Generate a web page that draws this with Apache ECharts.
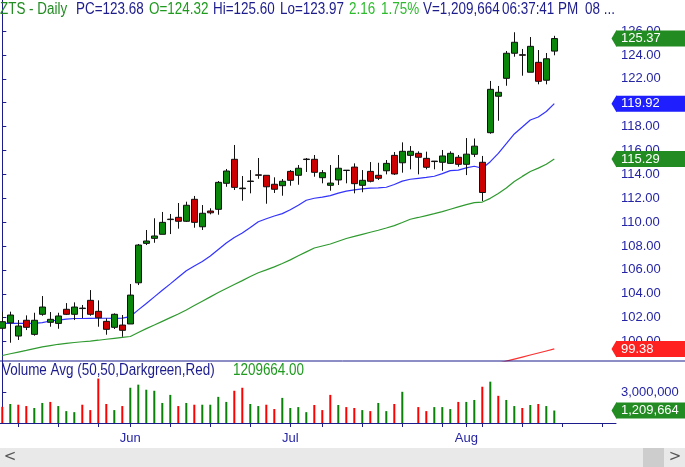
<!DOCTYPE html>
<html>
<head>
<meta charset="utf-8">
<script src="https://cdn.jsdelivr.net/npm/echarts@6/dist/echarts.min.js"></script>
<style>
html,body{margin:0;padding:0;background:#fff;}
#main{width:685px;height:467px;}
</style>
</head>
<body>
<div id="main"></div>
<script>
// daily bars, 9 May - 16 Aug (index 0..69)
var opens = [101.11,101.57,100.46,101.78,100.60,102.28,101.61,101.52,102.70,102.28,
  102.76,103.45,102.53,101.69,101.19,101.38,101.47,104.92,108.22,108.64,
  108.98,110.25,110.40,110.07,111.91,109.61,110.93,111.07,113.25,115.26,
  112.80,113.40,113.96,113.92,113.17,113.05,114.25,113.92,115.24,115.26,
  113.72,113.08,113.53,114.32,114.61,113.08,114.25,113.92,114.30,115.59,
  114.97,115.59,115.76,115.34,115.11,115.01,114.92,115.43,114.84,115.68,
  115.01,117.49,120.54,122.04,124.14,124.02,122.55,123.38,121.88,124.32];
var highs = [102.50,102.50,101.80,102.19,102.41,103.81,102.47,102.41,103.22,103.28,
  103.06,104.31,103.45,101.94,102.36,102.22,104.82,108.17,109.34,110.32,
  110.85,110.68,111.60,111.71,112.19,111.43,111.16,113.44,114.45,116.46,
  113.86,114.36,115.37,113.92,113.75,113.61,114.36,114.78,115.37,115.62,
  114.36,114.78,115.62,114.36,114.92,114.36,115.03,114.97,115.20,115.87,
  116.68,116.37,115.93,115.90,115.12,116.04,115.93,115.62,117.04,117.00,
  115.54,121.82,121.40,124.33,125.90,124.50,125.50,124.41,124.16,125.60];
var lows = [101.00,99.90,100.13,100.96,100.49,102.16,101.24,101.07,102.22,101.80,
  101.97,102.16,101.24,100.57,101.05,100.40,101.47,104.73,108.08,108.27,
  108.98,109.00,109.45,110.01,109.53,109.34,110.65,110.62,112.96,112.69,
  111.79,112.41,113.63,111.54,112.44,112.21,113.05,113.13,114.20,113.80,
  113.25,112.63,113.11,113.25,112.41,112.50,113.33,113.53,114.00,113.95,
  114.14,114.42,114.00,114.42,114.42,114.30,114.87,114.64,113.94,115.45,
  111.77,117.40,118.49,121.42,123.85,122.26,122.55,121.54,121.54,123.97];
var closes = [101.66,102.22,101.30,101.19,101.78,102.89,101.86,102.14,102.28,102.89,
  102.80,102.28,101.99,101.02,102.28,100.94,103.89,108.08,108.42,108.84,
  109.98,110.21,110.07,111.41,109.98,110.74,110.78,113.33,114.28,112.91,
  112.85,113.44,113.92,112.96,112.75,113.42,113.50,114.51,115.28,114.17,
  114.14,113.27,114.51,114.35,113.22,113.50,113.42,113.67,114.92,114.03,
  115.93,115.93,115.43,114.59,115.07,115.54,115.76,114.84,115.69,116.36,
  112.48,121.12,120.87,124.14,125.06,123.97,124.72,121.79,123.68,125.37];

// moving averages
var ma20 = [101.52,101.52,101.52,101.52,101.52,101.59,101.72,101.80,101.88,101.93,
  101.93,101.94,101.95,101.95,101.94,101.96,102.09,102.65,103.19,103.74,
  104.29,104.83,105.38,105.92,106.32,106.70,107.16,107.71,108.25,108.72,
  109.09,109.55,110.03,110.28,110.51,110.71,111.03,111.42,111.83,112.00,
  112.10,112.22,112.43,112.60,112.70,112.78,112.84,112.86,112.92,113.15,
  113.43,113.59,113.67,113.75,113.84,114.06,114.31,114.36,114.54,114.68,
  114.51,115.06,115.75,116.58,117.38,117.96,118.55,118.80,119.26,119.92];
var ma50 = [98.83,98.98,99.12,99.26,99.41,99.55,99.66,99.77,99.85,99.92,
  99.98,100.04,100.11,100.19,100.27,100.35,100.42,100.75,101.08,101.38,
  101.69,102.00,102.30,102.64,103.01,103.38,103.74,104.10,104.44,104.77,
  105.10,105.44,105.76,106.00,106.25,106.54,106.84,107.18,107.51,107.83,
  108.00,108.17,108.40,108.63,108.80,108.98,109.15,109.32,109.51,109.71,
  109.97,110.24,110.39,110.55,110.71,110.88,111.08,111.27,111.46,111.63,
  111.68,111.99,112.40,112.86,113.40,113.83,114.24,114.52,114.85,115.29];
var maRedStart = 62;
var maRed = [98.19,98.36,98.53,98.70,98.87,99.04,99.21,99.38];

var volumes = [1570000,1840000,1770000,1640000,1450000,1940000,2040000,1640000,1150000,1050000,
  1770000,1250000,4300000,1840000,1250000,1640000,3410000,3710000,3220000,3120000,
  1940000,2720000,1640000,1940000,1770000,1770000,1770000,2530000,2040000,3120000,
  3410000,1840000,1640000,1770000,1350000,2430000,1450000,1540000,1050000,1740000,
  1250000,2720000,1740000,1540000,1450000,1250000,1150000,1940000,1150000,1840000,
  3020000,null,1540000,1150000,1540000,1540000,1350000,2040000,2040000,2230000,
  3510000,4000000,2630000,2230000,1640000,1450000,1740000,1840000,1640000,1209664];
var volUp = [0,1,0,0,1,1,0,1,1,1, 0,0,0,0,1,0,1,1,1,1, 1,1,0,1,0,1,1,1,1,0,
  0,1,1,0,0,1,1,1,1,0, 0,0,1,0,0,1,0,1,1,0, 1,1,0,0,1,1,1,0,1,1,
  0,1,0,1,1,0,1,0,1,1];

var weekTicks = [2,7,12,21,26,31,40,45,50,55,60,65,70,75];
var monthTicks = [16,36,58];
var monthLabels = ['Jun','Jul','Aug'];
var priceTicks = [100,102,104,106,108,110,112,114,116,118,120,122,124,126];
var volTicks = [3000000];

var navy = '#1c1c8c';
var axisText = '#2424a4';
var sans = 'Liberation Sans, Arial, sans-serif';

var candles = opens.map(function(o, i){ return [i, o, closes[i], lows[i], highs[i]]; });
var ma20Data = ma20.map(function(v, i){ return [i, v]; });
var ma50Data = ma50.map(function(v, i){ return [i, v]; });
var maRedData = maRed.map(function(v, i){ return [maRedStart + i, v]; });
var volData = [];
volumes.forEach(function(v, i){
  if (v == null) return;
  volData.push({value: [i, v], itemStyle: {color: volUp[i] ? '#0a820a' : '#ff0000'}});
});

var xMin = -0.2875, xMax = 76.7125;

// coloured value box on the right axis
function tag(v, text, bg) {
  return {
    silent: true, symbol: ['none','none'], animation: false,
    lineStyle: {color: 'rgba(0,0,0,0)', width: 0, opacity: 1},
    data: [{yAxis: v}],
    label: {show: true, position: 'end', distance: 0, formatter: text, color: '#fff', opacity: 1,
      backgroundColor: bg, padding: [2,4,1,5], width: 64,
      fontSize: 13, fontFamily: sans}
  };
}
function arrow(v, bg) {
  return {
    silent: true, animation: false,
    symbol: 'triangle', symbolSize: [17, 5], symbolRotate: 90, symbolOffset: [-2, 0],
    itemStyle: {color: bg}, label: {show: false},
    data: [{coord: [xMax, v]}]
  };
}
function hdr(x, y, text, color) {
  return {type: 'text', x: x, y: y, scaleX: 0.84, z: 20,
    style: {text: text, fill: color, font: '16px ' + sans, verticalAlign: 'middle', textVerticalAlign: 'middle'}};
}

var chart = echarts.init(document.getElementById('main'));
var option = {
  animation: false,
  grid: [
    {left: 0, right: 69, top: 0, height: 361},
    {left: 0, right: 69, top: 361, height: 62}
  ],
  xAxis: [
    {type: 'value', gridIndex: 0, min: xMin, max: xMax,
      axisLine: {show: false}, axisTick: {show: false}, axisLabel: {show: false}, splitLine: {show: false}},
    {type: 'value', gridIndex: 1, min: xMin, max: xMax,
      axisLine: {show: true, onZero: false, lineStyle: {color: navy, width: 1}},
      axisTick: {show: true, length: 4, customValues: weekTicks.concat(monthTicks), lineStyle: {color: navy}},
      axisLabel: {customValues: monthTicks, color: axisText, fontSize: 13, margin: 9, fontFamily: sans,
        formatter: function(v){ var k = monthTicks.indexOf(Math.round(v)); return k >= 0 ? monthLabels[k] : ''; }},
      splitLine: {show: false}}
  ],
  yAxis: [
    {type: 'value', gridIndex: 0, position: 'right', min: 98.37, max: 128.60,
      axisLine: {show: true, lineStyle: {color: navy, width: 1}},
      axisTick: {show: true, length: 4, customValues: priceTicks, lineStyle: {color: navy}},
      axisLabel: {customValues: priceTicks, color: axisText, fontSize: 13, margin: 5, fontFamily: sans,
        formatter: function(v){ return v.toFixed(2); }},
      splitLine: {show: false}},
    {type: 'value', gridIndex: 1, position: 'right', min: 0, max: 6000000,
      axisLine: {show: true, lineStyle: {color: navy, width: 1}},
      axisTick: {show: true, length: 4, customValues: volTicks, lineStyle: {color: navy}},
      axisLabel: {customValues: volTicks, color: axisText, fontSize: 13, margin: 5, fontFamily: sans,
        formatter: function(v){ return Math.round(v).toLocaleString('en-US'); }},
      splitLine: {show: false}}
  ],
  series: [
    {name: 'ma50', type: 'line', xAxisIndex: 0, yAxisIndex: 0, data: ma50Data,
      symbol: 'none', lineStyle: {color: '#2f9a2f', width: 1.2}, z: 2,
      markLine: tag(115.29, '115.29', '#228b22'), markPoint: arrow(115.29, '#228b22')},
    {name: 'ma20', type: 'line', xAxisIndex: 0, yAxisIndex: 0, data: ma20Data,
      symbol: 'none', lineStyle: {color: '#3232ff', width: 1.2}, z: 2,
      markLine: tag(119.92, '119.92', '#1e1eff'), markPoint: arrow(119.92, '#1e1eff')},
    {name: 'maRed', type: 'line', xAxisIndex: 0, yAxisIndex: 0, data: maRedData,
      symbol: 'none', lineStyle: {color: '#ff3030', width: 1.2}, z: 2,
      markLine: tag(99.38, '99.38', '#ff2020'), markPoint: arrow(99.38, '#ff2020')},
    {name: 'ZTS', type: 'candlestick', xAxisIndex: 0, yAxisIndex: 0, data: candles,
      encode: {x: 0, y: [1, 2, 3, 4]}, barWidth: 6, z: 3,
      itemStyle: {color: '#0a860a', color0: '#cc0000', borderColor: '#111', borderColor0: '#111', borderWidth: 1},
      markLine: tag(125.37, '125.37', '#228b22'), markPoint: arrow(125.37, '#228b22')},
    {name: 'Volume', type: 'bar', xAxisIndex: 1, yAxisIndex: 1, data: volData, barWidth: 2,
      markLine: tag(1209664, '1,209,664', '#228b22'), markPoint: arrow(1209664, '#228b22')}
  ],
  graphic: [
    {type: 'line', shape: {x1: 0, y1: 361, x2: 685, y2: 361}, style: {stroke: navy, lineWidth: 1}, z: 10},
    hdr(0, 10, 'ZTS - Daily', '#228b22'),
    hdr(76, 10, 'PC=123.68', navy),
    hdr(149, 10, 'O=124.32', '#1f9a1f'),
    hdr(213, 10, 'Hi=125.60', navy),
    hdr(280, 10, 'Lo=123.97', navy),
    hdr(349, 10, '2.16', '#2dbb2d'),
    hdr(381, 10, '1.75%', '#2dbb2d'),
    hdr(423, 10, 'V=1,209,664', navy),
    hdr(502, 10, '06:37:41 PM', navy),
    hdr(585, 10, '08 ...', navy),
    hdr(2, 371, 'Volume Avg (50,50,Darkgreen,Red)', navy),
    hdr(233, 371, '1209664.00', '#1f9a1f'),
    {type: 'rect', shape: {x: 0, y: 448, width: 685, height: 19}, style: {fill: '#e9e9e9'}},
    {type: 'rect', shape: {x: 643, y: 448, width: 21, height: 19}, style: {fill: '#cdcdcd'}},
    {type: 'text', x: 10, y: 457, style: {text: '<', fill: '#555', font: '15px DejaVu Sans', align: 'center', textAlign: 'center', verticalAlign: 'middle', textVerticalAlign: 'middle'}},
    {type: 'text', x: 675, y: 457, style: {text: '>', fill: '#555', font: '15px DejaVu Sans', align: 'center', textAlign: 'center', verticalAlign: 'middle', textVerticalAlign: 'middle'}}
  ]
};
chart.setOption(option);
</script>
</body>
</html>
